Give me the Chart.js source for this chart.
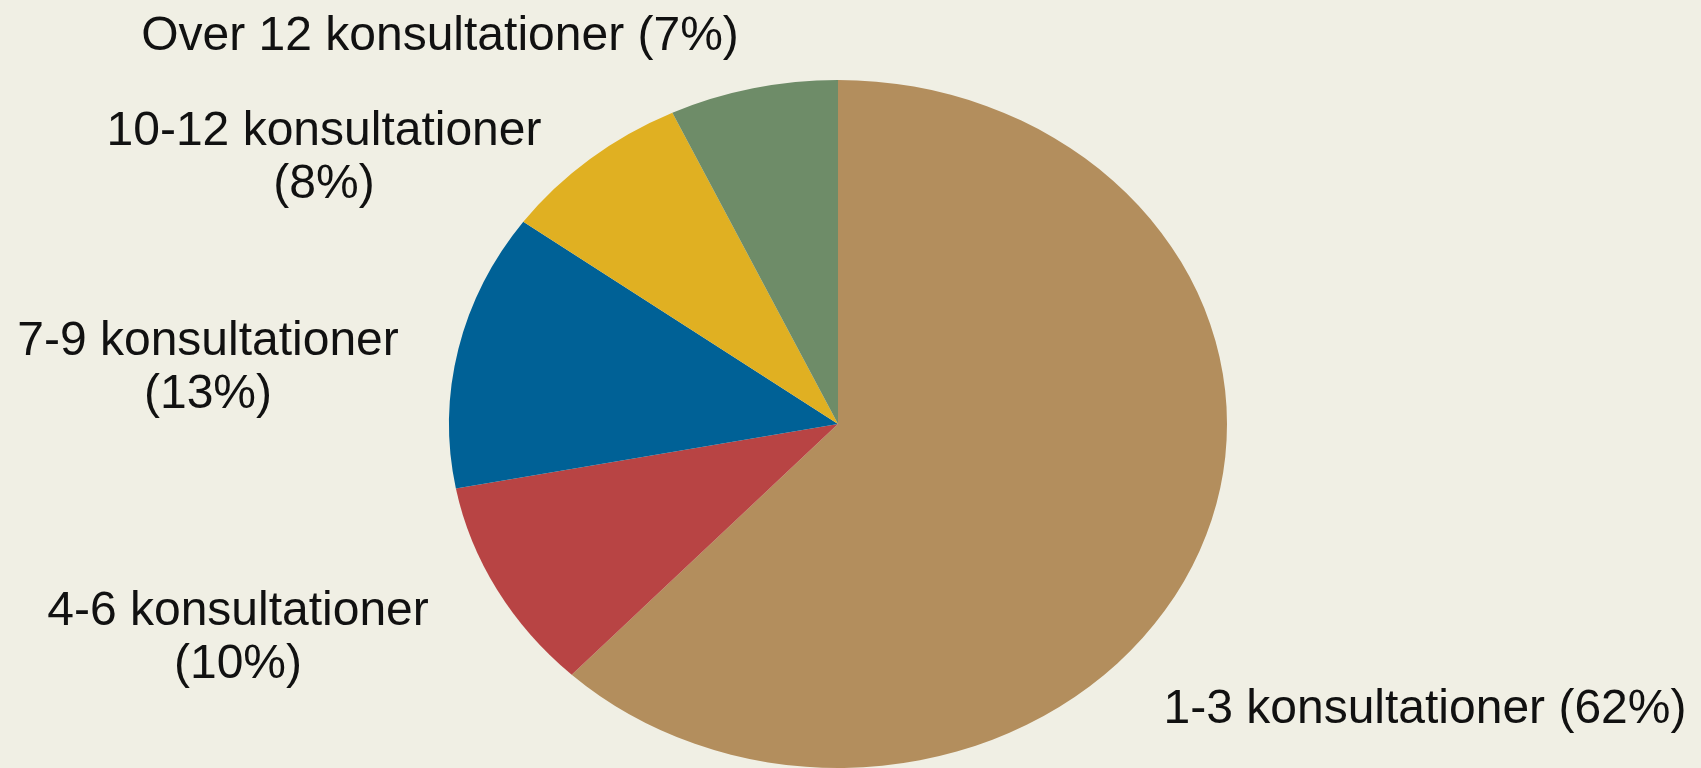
<!DOCTYPE html>
<html lang="da">
<head>
    <meta charset="UTF-8">
    <title>Konsultationer</title>
    <script src="https://cdn.jsdelivr.net/npm/chart.js"></script>
    <style>
        body {
            margin: 0;
            padding: 0;
            background-color: #f0efe4;
        }
        #wrap {
            width: 1701px;
            height: 768px;
        }
    </style>
</head>
<body>
    <div id="wrap"><canvas id="myChart"></canvas></div>

    <script>
        // data
        const categories = ['1-3 konsultationer', '4-6 konsultationer', '7-9 konsultationer', '10-12 konsultationer', 'Over 12 konsultationer'];
        const shares = [62, 10, 13, 8, 7];
        const sliceColors = ['#b38e5d', '#b84444', '#006196', '#e0b022', '#6e8c68'];

        // label placement: centre x, first baseline y, and whether the percent goes on its own line
        const labelPlaces = [
            { x: 1425, y: 723, split: false },
            { x: 238, y: 625, split: true },
            { x: 208, y: 355, split: true },
            { x: 324, y: 145, split: true },
            { x: 440, y: 50, split: false }
        ];

        const stretchX = 389 / 344; // the original pie is a bit wider than tall

        const ellipsePlugin = {
            id: 'ellipse',
            beforeDatasetsDraw(chart) {
                const arc = chart.getDatasetMeta(0).data[0];
                const ctx = chart.ctx;
                ctx.save();
                ctx.translate(arc.x, arc.y);
                ctx.scale(stretchX, 1);
                ctx.translate(-arc.x, -arc.y);
            },
            afterDatasetsDraw(chart) {
                chart.ctx.restore();
            }
        };

        const labelPlugin = {
            id: 'sliceLabels',
            afterDraw(chart) {
                const ctx = chart.ctx;
                ctx.save();
                ctx.font = '48px "Liberation Sans", Arial, sans-serif';
                ctx.fillStyle = '#111111';
                ctx.textAlign = 'center';
                ctx.textBaseline = 'alphabetic';
                categories.forEach((name, i) => {
                    const p = labelPlaces[i];
                    const pct = '(' + shares[i] + '%)';
                    if (p.split) {
                        ctx.fillText(name, p.x, p.y);
                        ctx.fillText(pct, p.x, p.y + 53);
                    } else {
                        ctx.fillText(name + ' ' + pct, p.x, p.y);
                    }
                });
                ctx.restore();
            }
        };

        const ctx = document.getElementById('myChart').getContext('2d');
        new Chart(ctx, {
            type: 'pie',
            data: {
                labels: categories,
                datasets: [{
                    data: shares,
                    backgroundColor: sliceColors,
                    borderWidth: 0,
                    clip: false
                }]
            },
            options: {
                responsive: true,
                maintainAspectRatio: false,
                animation: false,
                events: [],
                layout: {
                    padding: { top: 80, bottom: 0, left: 400, right: 425 }
                },
                plugins: {
                    legend: { display: false },
                    tooltip: { enabled: false }
                }
            },
            plugins: [ellipsePlugin, labelPlugin]
        });
    </script>
</body>
</html>
